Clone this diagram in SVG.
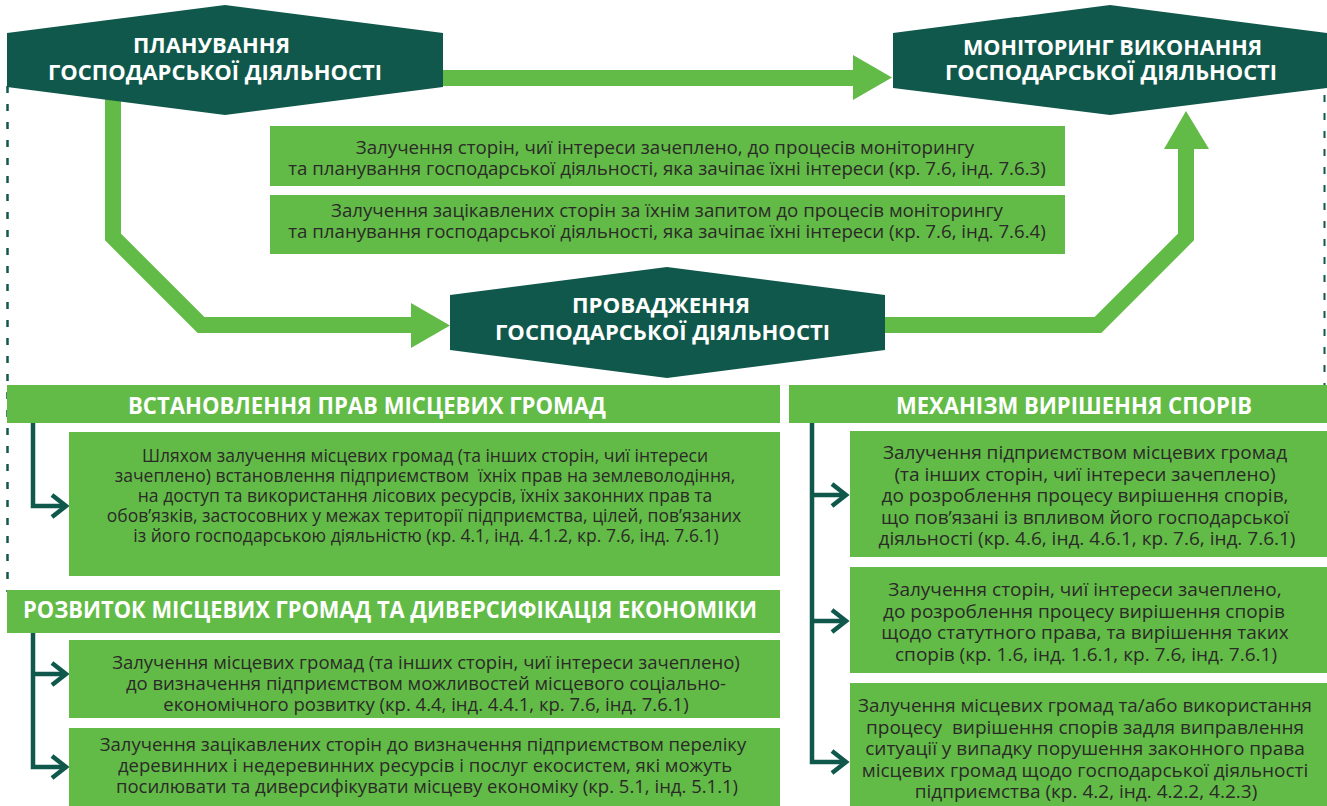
<svg xmlns="http://www.w3.org/2000/svg" width="1327" height="806" viewBox="0 0 1327 806">
<defs>
<style>
.hex{fill:#10584b}
.box{fill:#62bb46}
.ht{font-family:"Open Sans","Noto Sans","DejaVu Sans",sans-serif;font-weight:700;fill:#ffffff;text-anchor:middle}
.hx{font-size:21px}
.hd{font-size:24px}
.bt{font-family:"Open Sans","Noto Sans","DejaVu Sans",sans-serif;fill:#2b2a29;text-anchor:middle}
.t18{font-size:18.7px}
.t17{font-size:17.5px}
.t185{font-size:18.5px}
.t19{font-size:19px}
.flow{fill:none;stroke:#62bb46;stroke-width:16;stroke-linejoin:miter;stroke-miterlimit:10}
.head{fill:#62bb46}
.tree{fill:none;stroke:#10584b;stroke-width:4.5}
.dash{fill:none;stroke:#10584b;stroke-dasharray:7 11}
</style>
<marker id="chev" viewBox="-18 -14 22 28" refX="0" refY="0" markerWidth="22" markerHeight="28" markerUnits="userSpaceOnUse" orient="auto">
<path d="M-14,-11 L0,0 L-14,11" fill="none" stroke="#10584b" stroke-width="4.5"/>
</marker>
</defs>

<g id="connectors">
<line class="dash" x1="7.5" y1="86" x2="7.5" y2="592" stroke-width="2.5"/>
<line class="dash" x1="1324.5" y1="95" x2="1324.5" y2="386" stroke-width="2"/>
<path class="flow" d="M440,78 H856"/>
<polygon class="head" points="853,55 892,77.5 853,100"/>
<path class="flow" d="M113,90 V237 L201,325 H414"/>
<polygon class="head" points="411,303 450,325.5 411,348"/>
<path class="flow" d="M880,325 H1098 L1186,237 V146"/>
<polygon class="head" points="1164,149 1186,111 1209,149"/>
<path class="tree" d="M33,421 V506 H66" marker-end="url(#chev)"/>
<path class="tree" d="M33,631 V767 H66" marker-end="url(#chev)"/>
<path class="tree" d="M33,674 H66" marker-end="url(#chev)"/>
<path class="tree" d="M812,421 V762 H846" marker-end="url(#chev)"/>
<path class="tree" d="M812,495 H846" marker-end="url(#chev)"/>
<path class="tree" d="M812,621 H846" marker-end="url(#chev)"/>
</g>

<g id="planning">
<polygon class="hex" points="7,33 225,5 443,33 443,87 225,115 7,87"/>
<text class="ht hx" x="211.5" y="53" textLength="157" lengthAdjust="spacingAndGlyphs">ПЛАНУВАННЯ</text>
<text class="ht hx" x="215" y="80" textLength="334" lengthAdjust="spacingAndGlyphs">ГОСПОДАРСЬКОЇ ДІЯЛЬНОСТІ</text>
</g>

<g id="monitoring">
<polygon class="hex" points="893,33 1110,5 1327,33 1327,88 1110,115 893,88"/>
<text class="ht hx" x="1112.5" y="55" textLength="299" lengthAdjust="spacingAndGlyphs">МОНІТОРИНГ ВИКОНАННЯ</text>
<text class="ht hx" x="1111" y="80" textLength="332" lengthAdjust="spacingAndGlyphs">ГОСПОДАРСЬКОЇ ДІЯЛЬНОСТІ</text>
</g>

<g id="implementation">
<polygon class="hex" points="450,295 667,267 885,295 885,350 667,378 450,350"/>
<text class="ht hx" x="661" y="313" textLength="178" lengthAdjust="spacingAndGlyphs">ПРОВАДЖЕННЯ</text>
<text class="ht hx" x="662.5" y="340" textLength="335" lengthAdjust="spacingAndGlyphs">ГОСПОДАРСЬКОЇ ДІЯЛЬНОСТІ</text>
</g>

<g id="top-box-1">
<rect class="box" x="270" y="126" width="795" height="60"/>
<text class="bt t18" x="665" y="154">Залучення сторін, чиї інтереси зачеплено, до процесів моніторингу</text>
<text class="bt t18" x="667" y="175">та планування господарської діяльності, яка зачіпає їхні інтереси (кр. 7.6, інд. 7.6.3)</text>
</g>

<g id="top-box-2">
<rect class="box" x="270" y="195" width="795" height="59"/>
<text class="bt t18" x="667" y="217">Залучення зацікавлених сторін за їхнім запитом до процесів моніторингу</text>
<text class="bt t18" x="667" y="238">та планування господарської діяльності, яка зачіпає їхні інтереси (кр. 7.6, інд. 7.6.4)</text>
</g>

<g id="rights-header">
<rect class="box" x="7" y="385" width="773" height="38"/>
<text class="ht hd" x="367" y="414" textLength="478" lengthAdjust="spacingAndGlyphs">ВСТАНОВЛЕННЯ ПРАВ МІСЦЕВИХ ГРОМАД</text>
</g>

<g id="rights-box">
<rect class="box" x="69" y="432" width="711" height="144"/>
<text class="bt t17" x="425" y="462">Шляхом залучення місцевих громад (та інших сторін, чиї інтереси</text>
<text class="bt t17" x="425" y="482" xml:space="preserve">зачеплено) встановлення підприємством  їхніх прав на землеволодіння,</text>
<text class="bt t17" x="425" y="502">на доступ та використання лісових ресурсів, їхніх законних прав та</text>
<text class="bt t17" x="424" y="522">обов’язків, застосовних у межах території підприємства, цілей, пов’язаних</text>
<text class="bt t17" x="426" y="542">із його господарською діяльністю (кр. 4.1, інд. 4.1.2, кр. 7.6, інд. 7.6.1)</text>
</g>

<g id="development-header">
<rect class="box" x="7" y="590" width="773" height="43"/>
<text class="ht hd" x="390" y="618" textLength="734" lengthAdjust="spacingAndGlyphs">РОЗВИТОК МІСЦЕВИХ ГРОМАД ТА ДИВЕРСИФІКАЦІЯ ЕКОНОМІКИ</text>
</g>

<g id="development-box-1">
<rect class="box" x="69" y="640" width="711" height="78"/>
<text class="bt t185" x="426" y="669">Залучення місцевих громад (та інших сторін, чиї інтереси зачеплено)</text>
<text class="bt t185" x="426" y="690">до визначення підприємством можливостей місцевого соціально-</text>
<text class="bt t185" x="426" y="711">економічного розвитку (кр. 4.4, інд. 4.4.1, кр. 7.6, інд. 7.6.1)</text>
</g>

<g id="development-box-2">
<rect class="box" x="69" y="728" width="711" height="78"/>
<text class="bt t185" x="423" y="751">Залучення зацікавлених сторін до визначення підприємством переліку</text>
<text class="bt t185" x="425" y="772">деревинних і недеревинних ресурсів і послуг екосистем, які можуть</text>
<text class="bt t185" x="427" y="793">посилювати та диверсифікувати місцеву економіку (кр. 5.1, інд. 5.1.1)</text>
</g>

<g id="disputes-header">
<rect class="box" x="789" y="385" width="538" height="38"/>
<text class="ht hd" x="1074" y="414" textLength="356" lengthAdjust="spacingAndGlyphs">МЕХАНІЗМ ВИРІШЕННЯ СПОРІВ</text>
</g>

<g id="disputes-box-1">
<rect class="box" x="850" y="431" width="477" height="126"/>
<text class="bt t19" x="1085" y="459">Залучення підприємством місцевих громад</text>
<text class="bt t19" x="1085" y="480.5">(та інших сторін, чиї інтереси зачеплено)</text>
<text class="bt t19" x="1085" y="502">до розроблення процесу вирішення спорів,</text>
<text class="bt t19" x="1085" y="523.5">що пов’язані із впливом його господарської</text>
<text class="bt t19" x="1087" y="545">діяльності (кр. 4.6, інд. 4.6.1, кр. 7.6, інд. 7.6.1)</text>
</g>

<g id="disputes-box-2">
<rect class="box" x="850" y="567" width="477" height="106"/>
<text class="bt t19" x="1085" y="596">Залучення сторін, чиї інтереси зачеплено,</text>
<text class="bt t19" x="1084" y="617.5">до розроблення процесу вирішення спорів</text>
<text class="bt t19" x="1085" y="639">щодо статутного права, та вирішення таких</text>
<text class="bt t19" x="1086" y="660.5">спорів (кр. 1.6, інд. 1.6.1, кр. 7.6, інд. 7.6.1)</text>
</g>

<g id="disputes-box-3">
<rect class="box" x="850" y="683" width="477" height="123"/>
<text class="bt t19" x="1085" y="712" textLength="454" lengthAdjust="spacingAndGlyphs">Залучення місцевих громад та/або використання</text>
<text class="bt t19" x="1085" y="733.5" xml:space="preserve">процесу  вирішення спорів задля виправлення</text>
<text class="bt t19" x="1085" y="755">ситуації у випадку порушення законного права</text>
<text class="bt t19" x="1085" y="776.5">місцевих громад щодо господарської діяльності</text>
<text class="bt t19" x="1086" y="798">підприємства (кр. 4.2, інд. 4.2.2, 4.2.3)</text>
</g>
</svg>
